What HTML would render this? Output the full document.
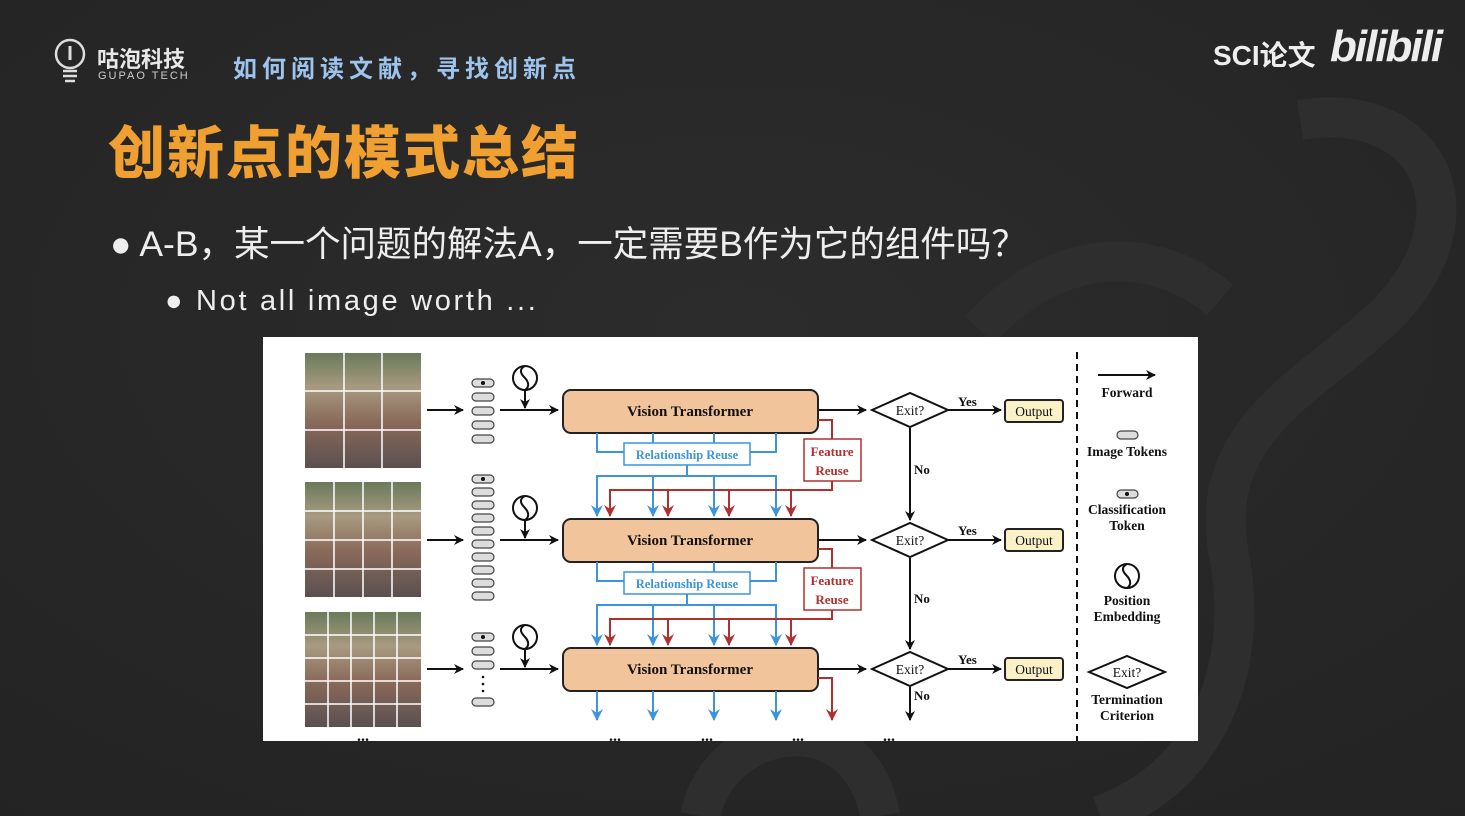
<!DOCTYPE html>
<html><head><meta charset="utf-8"><style>
body{margin:0;width:1465px;height:816px;overflow:hidden;background:#262626;font-family:"Liberation Sans","Noto Sans CJK SC",sans-serif;position:relative}
.t{position:absolute;white-space:nowrap}
</style></head><body>
<svg width="1465" height="816" style="position:absolute;left:0;top:0">
<defs><radialGradient id="bg" cx="0.5" cy="0.4" r="0.8"><stop offset="0" stop-color="#2c2c2c"/><stop offset="1" stop-color="#232323"/></radialGradient></defs>
<rect width="1465" height="816" fill="url(#bg)"/>
<g fill="none" stroke="#2e2e2e" stroke-width="40">
<path d="M1300 120 C1420 100 1480 200 1400 300 C1330 380 1200 420 1230 560 C1250 680 1200 780 1100 816"/>
<path d="M700 816 C720 720 860 700 880 816"/>
<path d="M980 330 C1050 250 1150 240 1220 300"/>
</g>
</svg>
<svg width="40" height="50" style="position:absolute;top:38px;left:54px">
<circle cx="16" cy="16" r="14" fill="none" stroke="#ddd" stroke-width="2.5"/>
<path d="M16 8v14" stroke="#ddd" stroke-width="3"/>
<path d="M9 33h14M9 38h14M11 43h10" stroke="#ddd" stroke-width="2.5"/>
</svg>
<div class="t" style="left:97px;top:42px;color:#e8e8e8;font-size:22px;font-weight:bold">咕泡科技</div>
<div class="t" style="left:98px;top:70px;color:#ccc;font-size:11px;letter-spacing:2px">GUPAO TECH</div>
<div class="t" style="left:233px;top:49px;color:#9ec4ee;font-size:24px;font-weight:bold;letter-spacing:5px">如何阅读文献，寻找创新点</div>
<div class="t" style="left:1213px;top:34px;color:#eee;font-size:28px;font-weight:bold">SCI论文</div>
<div class="t" style="left:1330px;top:22px;color:#eee;font-size:44px;font-weight:bold;font-style:italic;letter-spacing:-2px">bilibili</div>
<div class="t" style="left:108px;top:108px;color:#f0a030;font-size:57px;font-weight:900;letter-spacing:2px">创新点的模式总结</div>
<div class="t" style="left:110px;top:216px;color:#eee;font-size:35.5px">● A-B，某一个问题的解法A，一定需要B作为它的组件吗？</div>
<div class="t" style="left:165px;top:285px;color:#eee;font-size:29px;letter-spacing:2.7px">● Not all image worth ...</div>
<svg width="1465" height="816" style="position:absolute;left:0;top:0" font-family="Liberation Serif,serif" font-weight="bold">
<defs>
<marker id="ak" markerWidth="10" markerHeight="10" refX="9" refY="5" orient="auto" markerUnits="userSpaceOnUse"><path d="M0 0L10 5L0 10L3 5z" fill="#111"/></marker>
<marker id="ab" markerWidth="12" markerHeight="12" refX="11" refY="6" orient="auto" markerUnits="userSpaceOnUse"><path d="M0 0L12 6L0 12L4 6z" fill="#3b94dd"/></marker>
<marker id="ar" markerWidth="12" markerHeight="12" refX="11" refY="6" orient="auto" markerUnits="userSpaceOnUse"><path d="M0 0L12 6L0 12L4 6z" fill="#b03030"/></marker>
<linearGradient id="img" x1="0" y1="0" x2="0" y2="1"><stop offset="0" stop-color="#6a7a5a"/><stop offset="0.3" stop-color="#a89a80"/><stop offset="0.6" stop-color="#8a6a5a"/><stop offset="1" stop-color="#5a5050"/></linearGradient>
</defs>
<rect x="263" y="337" width="935" height="404" fill="#fff"/>
<rect x="305" y="353" width="116" height="115" fill="url(#img)"/>
<rect x="305" y="482" width="116" height="115" fill="url(#img)"/>
<rect x="305" y="612" width="116" height="115" fill="url(#img)"/>
<g stroke="#fff" stroke-width="1.5">
<path d="M344 353v115M382 353v115M305 391h116M305 430h116"/>
<path d="M334 482v115M363 482v115M392 482v115M305 511h116M305 540h116M305 569h116"/>
<path d="M328 612v115M351 612v115M374 612v115M397 612v115M305 635h116M305 658h116M305 681h116M305 704h116"/>
</g>
<g fill="#ddd" stroke="#444" stroke-width="1.2">
<rect x="472" y="379" width="22" height="8" rx="4"/><rect x="472" y="393" width="22" height="8" rx="4"/><rect x="472" y="407" width="22" height="8" rx="4"/><rect x="472" y="421" width="22" height="8" rx="4"/><rect x="472" y="435" width="22" height="8" rx="4"/>
<rect x="472" y="475" width="22" height="8" rx="4"/><rect x="472" y="488" width="22" height="8" rx="4"/><rect x="472" y="501" width="22" height="8" rx="4"/><rect x="472" y="514" width="22" height="8" rx="4"/><rect x="472" y="527" width="22" height="8" rx="4"/><rect x="472" y="540" width="22" height="8" rx="4"/><rect x="472" y="553" width="22" height="8" rx="4"/><rect x="472" y="566" width="22" height="8" rx="4"/><rect x="472" y="579" width="22" height="8" rx="4"/><rect x="472" y="592" width="22" height="8" rx="4"/>
<rect x="472" y="633" width="22" height="8" rx="4"/><rect x="472" y="647" width="22" height="8" rx="4"/><rect x="472" y="661" width="22" height="8" rx="4"/><rect x="472" y="698" width="22" height="8" rx="4"/>
</g>
<g fill="#111"><circle cx="483" cy="383" r="2"/><circle cx="483" cy="479" r="2"/><circle cx="483" cy="637" r="2"/><circle cx="483" cy="677" r="1.3"/><circle cx="483" cy="684" r="1.3"/><circle cx="483" cy="691" r="1.3"/></g>
<g stroke="#111" stroke-width="2" fill="none" marker-end="url(#ak)">
<path d="M427 410H463"/><path d="M427 540H463"/><path d="M427 669H463"/>
<path d="M500 410H558"/><path d="M500 540H558"/><path d="M500 669H558"/>
<path d="M525 390V408"/><path d="M525 520V538"/><path d="M525 649V667"/>
<path d="M818 410H866"/><path d="M818 540H866"/><path d="M818 669H866"/>
<path d="M948 410H1001"/><path d="M948 540H1001"/><path d="M948 669H1001"/>
<path d="M910 428V520"/><path d="M910 558V649"/><path d="M910 687V720"/>
<path d="M1098 375H1155"/>
</g>
<g fill="none" stroke="#111" stroke-width="2">
<circle cx="525" cy="378" r="12"/><circle cx="525" cy="508" r="12"/><circle cx="525" cy="637" r="12"/>
<path d="M525 366c-8 4-2 10 0 12s6 8 0 12M525 496c-8 4-2 10 0 12s6 8 0 12M525 625c-8 4-2 10 0 12s6 8 0 12"/>
<circle cx="1127" cy="576" r="12"/><path d="M1127 564c-8 4-2 10 0 12s6 8 0 12"/>
</g>
<g fill="#f2c49c" stroke="#222" stroke-width="2">
<rect x="563" y="390" width="255" height="43" rx="8"/><rect x="563" y="519" width="255" height="43" rx="8"/><rect x="563" y="648" width="255" height="43" rx="8"/>
</g>
<g font-size="15" text-anchor="middle" fill="#111">
<text x="690" y="416">Vision Transformer</text><text x="690" y="545">Vision Transformer</text><text x="690" y="674">Vision Transformer</text>
</g>
<g fill="none" stroke="#3b94dd" stroke-width="2">
<path d="M597 433V452H624M776 433V452H750M653 433V443M714 433V443"/>
<path d="M597 562V581H624M776 562V581H750M653 562V572M714 562V572"/>
<path d="M687 465V476M597 490V476H776V490M653 476V490M714 476V490"/>
<path d="M687 594V605M597 620V605H776V620M653 605V620M714 605V620"/>
</g>
<g stroke="#3b94dd" stroke-width="2" marker-end="url(#ab)"><path d="M597 488V516"/><path d="M653 488V516"/><path d="M714 488V516"/><path d="M776 488V516"/><path d="M597 618V645"/><path d="M653 618V645"/><path d="M714 618V645"/><path d="M776 618V645"/><path d="M597 691V720"/><path d="M653 691V720"/><path d="M714 691V720"/><path d="M776 691V720"/></g>
<g fill="none" stroke="#b03030" stroke-width="2">
<path d="M818 420H832V439M832 481V490H610V500M668 490V500M729 490V500M791 490V500"/>
<path d="M818 549H832V568M832 610V619H610V629M668 619V629M729 619V629M791 619V629"/>
<path d="M818 678H832V700"/>
</g>
<g stroke="#b03030" stroke-width="2" marker-end="url(#ar)"><path d="M610 498V516"/><path d="M668 498V516"/><path d="M729 498V516"/><path d="M791 498V516"/><path d="M610 627V645"/><path d="M668 627V645"/><path d="M729 627V645"/><path d="M791 627V645"/><path d="M832 698V720"/></g>
<g fill="#fff" stroke-width="1.5">
<rect x="624" y="443" width="126" height="22" stroke="#3b94dd"/><rect x="624" y="572" width="126" height="22" stroke="#3b94dd"/>
<rect x="804" y="439" width="57" height="42" stroke="#b03030"/><rect x="804" y="568" width="57" height="42" stroke="#b03030"/>
</g>
<g font-size="12.5" text-anchor="middle" fill="#3b94dd"><text x="687" y="459">Relationship Reuse</text><text x="687" y="588">Relationship Reuse</text></g>
<g font-size="13" text-anchor="middle" fill="#b03030"><text x="832" y="456">Feature</text><text x="832" y="475">Reuse</text><text x="832" y="585">Feature</text><text x="832" y="604">Reuse</text></g>
<g fill="#fff" stroke="#111" stroke-width="2">
<path d="M872 410L910 393L948 410L910 427z"/><path d="M872 540L910 523L948 540L910 557z"/><path d="M872 669L910 652L948 669L910 686z"/>
<path d="M1089 672L1127 656L1165 672L1127 688z"/>
</g>
<g fill="#fbf1c6" stroke="#222" stroke-width="2"><rect x="1005" y="400" width="58" height="22" rx="3"/><rect x="1005" y="529" width="58" height="22" rx="3"/><rect x="1005" y="658" width="58" height="22" rx="3"/></g>
<g font-size="13.5" fill="#111" font-weight="normal" text-anchor="middle">
<text x="910" y="415">Exit?</text><text x="910" y="545">Exit?</text><text x="910" y="674">Exit?</text><text x="1127" y="677">Exit?</text>
<text x="1034" y="416">Output</text><text x="1034" y="545">Output</text><text x="1034" y="674">Output</text>
</g>
<g font-size="13" fill="#111">
<text x="958" y="406">Yes</text><text x="958" y="535">Yes</text><text x="958" y="664">Yes</text>
<text x="914" y="474">No</text><text x="914" y="603">No</text><text x="914" y="700">No</text>
</g>
<path d="M1077 352V741" stroke="#111" stroke-width="2" stroke-dasharray="7,5"/>
<rect x="1117" y="431" width="21" height="8" rx="4" fill="#ddd" stroke="#444" stroke-width="1.2"/>
<rect x="1117" y="490" width="21" height="8" rx="4" fill="#ddd" stroke="#444" stroke-width="1.2"/><circle cx="1127" cy="494" r="2" fill="#111"/>
<g font-size="13.5" fill="#111" text-anchor="middle">
<text x="1127" y="397">Forward</text><text x="1127" y="456">Image Tokens</text>
<text x="1127" y="514">Classification</text><text x="1127" y="530">Token</text>
<text x="1127" y="605">Position</text><text x="1127" y="621">Embedding</text>
<text x="1127" y="704">Termination</text><text x="1127" y="720">Criterion</text>
</g>
<g font-size="16" fill="#111" text-anchor="middle"><text x="363" y="741">...</text><text x="615" y="741">...</text><text x="707" y="741">...</text><text x="798" y="741">...</text><text x="889" y="741">...</text></g>
</svg>
</body></html>
